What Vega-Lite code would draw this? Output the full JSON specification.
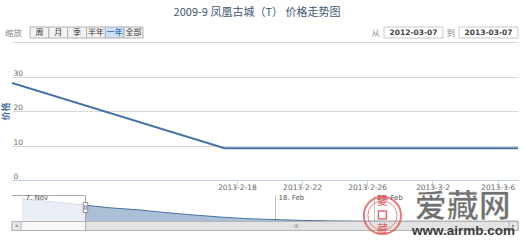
{
  "$schema": "https://vega.github.io/schema/vega-lite/v6.json",
  "background": "#ffffff",
  "padding": {"left": 1, "top": 6, "right": 0, "bottom": 0},
  "config": {"view": {"stroke": null}},
  "datasets": {
    "price": [
      {"date": "2013-02-04T05:00:00", "price": 28.1},
      {"date": "2013-02-17T06:00:00", "price": 9.2},
      {"date": "2013-02-18T06:00:00", "price": 9.2},
      {"date": "2013-02-19T06:00:00", "price": 9.2},
      {"date": "2013-02-20T06:00:00", "price": 9.2},
      {"date": "2013-02-21T06:00:00", "price": 9.2},
      {"date": "2013-02-22T06:00:00", "price": 9.2},
      {"date": "2013-02-23T06:00:00", "price": 9.2},
      {"date": "2013-02-24T06:00:00", "price": 9.2},
      {"date": "2013-02-25T06:00:00", "price": 9.2},
      {"date": "2013-02-26T06:00:00", "price": 9.2},
      {"date": "2013-02-27T06:00:00", "price": 9.2},
      {"date": "2013-02-28T06:00:00", "price": 9.2},
      {"date": "2013-03-01T06:00:00", "price": 9.2},
      {"date": "2013-03-02T06:00:00", "price": 9.2},
      {"date": "2013-03-03T06:00:00", "price": 9.2},
      {"date": "2013-03-04T06:00:00", "price": 9.2},
      {"date": "2013-03-05T06:00:00", "price": 9.2},
      {"date": "2013-03-06T06:00:00", "price": 9.2},
      {"date": "2013-03-07T06:00:00", "price": 9.2}
    ],
    "nav": [
      {"date": "2012-11-07T00:00:00", "value": 28.2},
      {"date": "2013-02-04T05:00:00", "value": 22.8},
      {"date": "2013-02-06T00:00:00", "value": 20.6},
      {"date": "2013-02-08T00:00:00", "value": 18.9},
      {"date": "2013-02-10T00:00:00", "value": 16.6},
      {"date": "2013-02-12T00:00:00", "value": 14.6},
      {"date": "2013-02-14T00:00:00", "value": 12.8},
      {"date": "2013-02-16T00:00:00", "value": 11.4},
      {"date": "2013-02-18T00:00:00", "value": 10.6},
      {"date": "2013-02-20T00:00:00", "value": 9.9},
      {"date": "2013-02-22T00:00:00", "value": 9.5},
      {"date": "2013-02-24T00:00:00", "value": 9.3},
      {"date": "2013-02-26T00:00:00", "value": 9.2},
      {"date": "2013-03-07T06:00:00", "value": 9.2}
    ],
    "buttons": [
      {"btn": "周", "selected": false},
      {"btn": "月", "selected": false},
      {"btn": "季", "selected": false},
      {"btn": "半年", "selected": false},
      {"btn": "一年", "selected": true},
      {"btn": "全部", "selected": false}
    ],
    "inputs": [
      {"label": "从", "date": "2012-03-07"},
      {"label": "到", "date": "2013-03-07"}
    ],
    "window": [
      {"navStart": "2012-11-03T00:00:00", "selStart": "2013-02-04T05:00:00", "selEnd": "2013-03-07T06:00:00"}
    ],
    "scrollbar": [
      {"part": "track", "from": "2012-11-03T00:00:00", "to": "2013-03-07T06:00:00"},
      {"part": "thumb", "from": "2013-02-04T05:00:00", "to": "2013-03-07T06:00:00"},
      {"part": "left", "from": "2012-11-03T00:00:00", "to": "2012-11-06T14:24:00"},
      {"part": "right", "from": "2013-03-06T14:40:00", "to": "2013-03-07T06:00:00"}
    ],
    "watermark": [
      {"site": "爱藏网", "url": "www.airmb.com", "top": "愛", "bottom": "藏"}
    ]
  },
  "bounds": "flush",
  "spacing": 4,
  "vconcat": [
    {
      "width": 506,
      "height": 11,
      "title": {"text": "2009-9 凤凰古城（T） 价格走势图", "font": "Noto Sans CJK SC", "fontSize": 11, "fontWeight": "normal", "color": "#3e576f", "anchor": "middle", "frame": "group", "offset": 9, "dx": -8},
      "resolve": {"scale": {"x": "independent"}},
      "layer": [
        {
          "data": {"name": "buttons"},
          "mark": {"type": "rect", "stroke": "#b0b0b0", "strokeWidth": 1},
          "encoding": {
            "x": {"field": "btn", "type": "nominal", "sort": null, "axis": null,
                  "scale": {"type": "band", "domain": ["周", "月", "季", "半年", "一年", "全部"], "range": [18, 131], "paddingInner": 0, "paddingOuter": 0}},
            "fill": {"condition": {"test": "datum.selected", "value": "#cde1f5"}, "value": "#f3f3f3"}
          }
        },
        {
          "data": {"name": "buttons"},
          "mark": {"type": "text", "font": "Noto Sans CJK SC", "fontSize": 8, "baseline": "middle", "align": "center"},
          "encoding": {
            "x": {"field": "btn", "type": "nominal", "sort": null, "axis": null,
                  "scale": {"type": "band", "domain": ["周", "月", "季", "半年", "一年", "全部"], "range": [18, 131], "paddingInner": 0, "paddingOuter": 0}},
            "text": {"field": "btn"},
            "color": {"condition": {"test": "datum.selected", "value": "#0a4ea0"}, "value": "#333333"}
          }
        },
        {
          "data": {"values": [{"label": "缩放"}]},
          "mark": {"type": "text", "font": "Noto Sans CJK SC", "fontSize": 8.5, "baseline": "middle", "align": "right", "dx": -8, "color": "#8a8a8a"},
          "encoding": {
            "x": {"datum": "周", "type": "nominal", "bandPosition": 0, "axis": null,
                  "scale": {"type": "band", "domain": ["周", "月", "季", "半年", "一年", "全部"], "range": [18, 131], "paddingInner": 0, "paddingOuter": 0}},
            "text": {"field": "label"}
          }
        },
        {
          "data": {"name": "inputs"},
          "mark": {"type": "rect", "fill": "#ffffff", "stroke": "#c8c8c8", "strokeWidth": 1},
          "encoding": {
            "x": {"field": "date", "type": "nominal", "sort": null, "axis": null,
                  "scale": {"type": "band", "domain": ["2012-03-07", "2013-03-07"], "range": [372, 506], "paddingInner": 0.213, "paddingOuter": 0}}
          }
        },
        {
          "data": {"name": "inputs"},
          "mark": {"type": "text", "font": "DejaVu Sans", "fontSize": 7.5, "fontWeight": "bold", "baseline": "middle", "align": "center", "color": "#444444"},
          "encoding": {
            "x": {"field": "date", "type": "nominal", "sort": null, "axis": null,
                  "scale": {"type": "band", "domain": ["2012-03-07", "2013-03-07"], "range": [372, 506], "paddingInner": 0.213, "paddingOuter": 0}},
            "text": {"field": "date"}
          }
        },
        {
          "data": {"name": "inputs"},
          "mark": {"type": "text", "font": "Noto Sans CJK SC", "fontSize": 8.5, "baseline": "middle", "align": "right", "dx": -4, "color": "#8a8a8a"},
          "encoding": {
            "x": {"field": "date", "type": "nominal", "sort": null, "axis": null, "bandPosition": 0,
                  "scale": {"type": "band", "domain": ["2012-03-07", "2013-03-07"], "range": [372, 506], "paddingInner": 0.213, "paddingOuter": 0}},
            "text": {"field": "label"}
          }
        }
      ]
    },
    {
      "bounds": "flush",
      "spacing": 15.5,
      "vconcat": [
        {
          "width": 506,
          "height": 138,
          "data": {"name": "price"},
          "mark": {"type": "line", "color": "#4572a7", "strokeWidth": 2, "clip": true},
          "encoding": {
            "x": {"field": "date", "type": "temporal",
                  "scale": {"domain": [{"year": 2013, "month": 2, "date": 4, "hours": 5}, {"year": 2013, "month": 3, "date": 7, "hours": 6}], "nice": false},
                  "axis": {"values": [{"year": 2013, "month": 2, "date": 18}, {"year": 2013, "month": 2, "date": 22}, {"year": 2013, "month": 2, "date": 26}, {"year": 2013, "month": 3, "date": 2}, {"year": 2013, "month": 3, "date": 6}],
                           "format": "%Y-%-m-%-d", "grid": false, "domainColor": "#c0d0e0", "domainWidth": 1, "tickColor": "#c0d0e0", "tickSize": 5,
                           "labelPadding": -2, "labelBaseline": "top", "labelFont": "DejaVu Sans", "labelFontSize": 7.5, "labelColor": "#666666",
                           "labelFlush": false, "labelOverlap": false, "title": null}},
            "y": {"field": "price", "type": "quantitative",
                  "scale": {"domain": [0, 40], "nice": false, "zero": false},
                  "axis": {"values": [0, 10, 20, 30, 40], "labelExpr": "datum.value == 40 ? '' : datum.label",
                           "grid": true, "gridColor": "#d8d8d8", "gridWidth": 1, "domain": false, "ticks": false, "tickSize": 0,
                           "labelAlign": "left", "labelBaseline": "alphabetic", "labelPadding": -1, "labelOffset": -1.5,
                           "labelFont": "DejaVu Sans", "labelFontSize": 7.5, "labelColor": "#666666", "labelFlush": false,
                           "title": "价格", "titleFont": "Noto Sans CJK SC", "titleFontSize": 9, "titleFontWeight": "bold", "titleColor": "#4d759e",
                           "titleAngle": -90, "titleAlign": "center", "titleBaseline": "middle", "titleX": -6.5, "titleY": 69}}
          }
        },
        {
          "bounds": "flush",
          "spacing": 0,
          "vconcat": [
            {
              "width": 506,
              "height": 26,
              "resolve": {"axis": {"x": "independent"}},
              "layer": [
                {
                  "data": {"name": "nav"},
                  "mark": {"type": "area", "color": "#4572a7", "opacity": 0.45, "interpolate": "monotone"},
                  "encoding": {
                    "x": {"field": "date", "type": "temporal",
                          "scale": {"domainRaw": {"expr": "[datetime(2012,10,3), datetime(2012,10,7), datetime(2013,1,4,5), datetime(2013,1,18), datetime(2013,2,7,6)]"}, "range": [0, 10, 73.5, 263, 506], "nice": false},
                          "axis": {"values": [{"year": 2012, "month": 11, "date": 7}, {"year": 2013, "month": 2, "date": 18}, {"year": 2013, "month": 2, "date": 25}],
                                   "grid": true, "gridColor": "#c4c4c4", "labels": false, "domain": false, "ticks": false, "tickSize": 0, "title": null, "zindex": 0}},
                    "y": {"field": "value", "type": "quantitative", "axis": null, "scale": {"domain": [9, 31], "nice": false, "zero": false}},
                    "y2": {"datum": 9}
                  }
                },
                {
                  "data": {"name": "nav"},
                  "mark": {"type": "line", "color": "#4572a7", "strokeWidth": 1, "interpolate": "monotone"},
                  "encoding": {
                    "x": {"field": "date", "type": "temporal", "axis": null,
                          "scale": {"domainRaw": {"expr": "[datetime(2012,10,3), datetime(2012,10,7), datetime(2013,1,4,5), datetime(2013,1,18), datetime(2013,2,7,6)]"}, "range": [0, 10, 73.5, 263, 506], "nice": false}},
                    "y": {"field": "value", "type": "quantitative", "axis": null, "scale": {"domain": [9, 31], "nice": false, "zero": false}}
                  }
                },
                {
                  "data": {"name": "window"},
                  "mark": {"type": "rect", "fill": "#ffffff", "opacity": 0.75},
                  "encoding": {
                    "x": {"field": "navStart", "type": "temporal",
                          "scale": {"domainRaw": {"expr": "[datetime(2012,10,3), datetime(2012,10,7), datetime(2013,1,4,5), datetime(2013,1,18), datetime(2013,2,7,6)]"}, "range": [0, 10, 73.5, 263, 506], "nice": false},
                          "axis": {"values": [{"year": 2012, "month": 11, "date": 7}, {"year": 2013, "month": 2, "date": 18}, {"year": 2013, "month": 2, "date": 25}],
                                   "format": "%-d. %b", "grid": false, "domain": false, "ticks": false, "tickSize": 0,
                                   "labelAlign": "left", "labelBaseline": "alphabetic", "labelPadding": -4, "labelOffset": 3,
                                   "labelFont": "DejaVu Sans", "labelFontSize": 7, "labelColor": "#555555", "labelFlush": false, "labelOverlap": false,
                                   "title": null, "zindex": 1}},
                    "x2": {"field": "selStart"}
                  }
                },
                {
                  "data": {"name": "window"},
                  "mark": {"type": "rule", "color": "#a8a8a8", "strokeWidth": 1},
                  "encoding": {
                    "x": {"field": "navStart", "type": "temporal", "axis": null,
                          "scale": {"domainRaw": {"expr": "[datetime(2012,10,3), datetime(2012,10,7), datetime(2013,1,4,5), datetime(2013,1,18), datetime(2013,2,7,6)]"}, "range": [0, 10, 73.5, 263, 506], "nice": false}},
                    "x2": {"field": "selStart"},
                    "y": {"datum": 31, "type": "quantitative", "axis": null, "scale": {"domain": [9, 31], "nice": false, "zero": false}}
                  }
                },
                {
                  "data": {"name": "window"},
                  "mark": {"type": "rule", "color": "#a8a8a8", "strokeWidth": 1},
                  "encoding": {
                    "x": {"field": "selStart", "type": "temporal", "axis": null,
                          "scale": {"domainRaw": {"expr": "[datetime(2012,10,3), datetime(2012,10,7), datetime(2013,1,4,5), datetime(2013,1,18), datetime(2013,2,7,6)]"}, "range": [0, 10, 73.5, 263, 506], "nice": false}}
                  }
                },
                {
                  "data": {"name": "window"},
                  "mark": {"type": "point", "shape": "M-0.45,-1L0.45,-1L0.45,1L-0.45,1Z M-0.15,-0.5L-0.15,0.5 M0.15,-0.5L0.15,0.5", "size": 100, "filled": true, "fill": "#ffffff", "stroke": "#8a8a8a", "strokeWidth": 1, "opacity": 1},
                  "encoding": {
                    "x": {"field": "selStart", "type": "temporal", "axis": null,
                          "scale": {"domainRaw": {"expr": "[datetime(2012,10,3), datetime(2012,10,7), datetime(2013,1,4,5), datetime(2013,1,18), datetime(2013,2,7,6)]"}, "range": [0, 10, 73.5, 263, 506], "nice": false}},
                    "y": {"datum": 20.8, "type": "quantitative", "axis": null, "scale": {"domain": [9, 31], "nice": false, "zero": false}}
                  }
                }
              ]
            },
            {
              "width": 506,
              "height": 9,
              "layer": [
                {
                  "data": {"name": "scrollbar"},
                  "mark": {"type": "rect", "stroke": "#b4b4b4", "strokeWidth": 1},
                  "encoding": {
                    "x": {"field": "from", "type": "temporal", "axis": null,
                          "scale": {"domainRaw": {"expr": "[datetime(2012,10,3), datetime(2012,10,7), datetime(2013,1,4,5), datetime(2013,1,18), datetime(2013,2,7,6)]"}, "range": [0, 10, 73.5, 263, 506], "nice": false}},
                    "x2": {"field": "to"},
                    "fill": {"field": "part", "type": "nominal", "legend": null,
                             "scale": {"domain": ["track", "thumb", "left", "right"], "range": ["#f8f8f8", "#e3e3e3", "#e6e6e6", "#e6e6e6"]}}
                  }
                },
                {
                  "data": {"values": [{"dir": "left"}]},
                  "mark": {"type": "point", "shape": "triangle-left", "size": 9, "filled": true, "color": "#555555"},
                  "encoding": {
                    "x": {"datum": {"year": 2012, "month": 11, "date": 4, "hours": 19}, "type": "temporal", "axis": null,
                          "scale": {"domainRaw": {"expr": "[datetime(2012,10,3), datetime(2012,10,7), datetime(2013,1,4,5), datetime(2013,1,18), datetime(2013,2,7,6)]"}, "range": [0, 10, 73.5, 263, 506], "nice": false}}
                  }
                },
                {
                  "data": {"values": [{"dir": "right"}]},
                  "mark": {"type": "point", "shape": "triangle-right", "size": 9, "filled": true, "color": "#555555"},
                  "encoding": {
                    "x": {"datum": {"year": 2013, "month": 3, "date": 6, "hours": 22}, "type": "temporal", "axis": null,
                          "scale": {"domainRaw": {"expr": "[datetime(2012,10,3), datetime(2012,10,7), datetime(2013,1,4,5), datetime(2013,1,18), datetime(2013,2,7,6)]"}, "range": [0, 10, 73.5, 263, 506], "nice": false}}
                  }
                },
                {
                  "data": {"values": [{"grip": "III"}]},
                  "mark": {"type": "text", "font": "DejaVu Sans", "fontSize": 5, "color": "#777777", "align": "center", "baseline": "middle"},
                  "encoding": {
                    "x": {"datum": {"year": 2013, "month": 2, "date": 19, "hours": 12}, "type": "temporal", "axis": null,
                          "scale": {"domainRaw": {"expr": "[datetime(2012,10,3), datetime(2012,10,7), datetime(2013,1,4,5), datetime(2013,1,18), datetime(2013,2,7,6)]"}, "range": [0, 10, 73.5, 263, 506], "nice": false}},
                    "text": {"field": "grip"}
                  }
                },
                {
                  "data": {"name": "watermark"},
                  "mark": {"type": "point", "shape": "circle", "size": 1385, "filled": false, "stroke": "#e05a5a", "strokeWidth": 2, "opacity": 0.8},
                  "encoding": {
                    "x": {"datum": {"year": 2013, "month": 2, "date": 25, "hours": 15}, "type": "temporal", "axis": null,
                          "scale": {"domainRaw": {"expr": "[datetime(2012,10,3), datetime(2012,10,7), datetime(2013,1,4,5), datetime(2013,1,18), datetime(2013,2,7,6)]"}, "range": [0, 10, 73.5, 263, 506], "nice": false}},
                    "y": {"datum": 14.1, "type": "quantitative", "axis": null, "scale": {"domain": [1.4, 9], "nice": false, "zero": false}}
                  }
                },
                {
                  "data": {"name": "watermark"},
                  "mark": {"type": "point", "shape": "circle", "size": 850, "filled": false, "stroke": "#e05a5a", "strokeWidth": 1, "opacity": 0.7},
                  "encoding": {
                    "x": {"datum": {"year": 2013, "month": 2, "date": 25, "hours": 15}, "type": "temporal", "axis": null,
                          "scale": {"domainRaw": {"expr": "[datetime(2012,10,3), datetime(2012,10,7), datetime(2013,1,4,5), datetime(2013,1,18), datetime(2013,2,7,6)]"}, "range": [0, 10, 73.5, 263, 506], "nice": false}},
                    "y": {"datum": 14.1, "type": "quantitative", "axis": null, "scale": {"domain": [1.4, 9], "nice": false, "zero": false}}
                  }
                },
                {
                  "data": {"name": "watermark"},
                  "mark": {"type": "point", "shape": "square", "size": 64, "filled": true, "fill": "#ffffff", "stroke": "#e05a5a", "strokeWidth": 1.5, "opacity": 0.9},
                  "encoding": {
                    "x": {"datum": {"year": 2013, "month": 2, "date": 25, "hours": 15}, "type": "temporal", "axis": null,
                          "scale": {"domainRaw": {"expr": "[datetime(2012,10,3), datetime(2012,10,7), datetime(2013,1,4,5), datetime(2013,1,18), datetime(2013,2,7,6)]"}, "range": [0, 10, 73.5, 263, 506], "nice": false}},
                    "y": {"datum": 14.5, "type": "quantitative", "axis": null, "scale": {"domain": [1.4, 9], "nice": false, "zero": false}}
                  }
                },
                {
                  "data": {"name": "watermark"},
                  "mark": {"type": "text", "font": "Noto Sans CJK TC", "fontSize": 11, "color": "#d94a4a", "opacity": 0.85, "align": "center", "baseline": "middle"},
                  "encoding": {
                    "x": {"datum": {"year": 2013, "month": 2, "date": 25, "hours": 15}, "type": "temporal", "axis": null,
                          "scale": {"domainRaw": {"expr": "[datetime(2012,10,3), datetime(2012,10,7), datetime(2013,1,4,5), datetime(2013,1,18), datetime(2013,2,7,6)]"}, "range": [0, 10, 73.5, 263, 506], "nice": false}},
                    "y": {"datum": 25.5, "type": "quantitative", "axis": null, "scale": {"domain": [1.4, 9], "nice": false, "zero": false}},
                    "text": {"field": "top"}
                  }
                },
                {
                  "data": {"name": "watermark"},
                  "mark": {"type": "text", "font": "Noto Sans CJK TC", "fontSize": 11, "color": "#d94a4a", "opacity": 0.85, "align": "center", "baseline": "middle"},
                  "encoding": {
                    "x": {"datum": {"year": 2013, "month": 2, "date": 25, "hours": 15}, "type": "temporal", "axis": null,
                          "scale": {"domainRaw": {"expr": "[datetime(2012,10,3), datetime(2012,10,7), datetime(2013,1,4,5), datetime(2013,1,18), datetime(2013,2,7,6)]"}, "range": [0, 10, 73.5, 263, 506], "nice": false}},
                    "y": {"datum": 1.8, "type": "quantitative", "axis": null, "scale": {"domain": [1.4, 9], "nice": false, "zero": false}},
                    "text": {"field": "bottom"}
                  }
                },
                {
                  "data": {"name": "watermark"},
                  "mark": {"type": "text", "font": "Noto Sans CJK SC", "fontSize": 32, "fontWeight": "bold", "color": "#707070", "stroke": "#ffffff", "strokeWidth": 0.6, "align": "center", "baseline": "middle"},
                  "encoding": {
                    "x": {"datum": {"year": 2013, "month": 3, "date": 3, "hours": 8}, "type": "temporal", "axis": null,
                          "scale": {"domainRaw": {"expr": "[datetime(2012,10,3), datetime(2012,10,7), datetime(2013,1,4,5), datetime(2013,1,18), datetime(2013,2,7,6)]"}, "range": [0, 10, 73.5, 263, 506], "nice": false}},
                    "y": {"datum": 21.2, "type": "quantitative", "axis": null, "scale": {"domain": [1.4, 9], "nice": false, "zero": false}},
                    "text": {"field": "site"}
                  }
                },
                {
                  "data": {"name": "watermark"},
                  "mark": {"type": "text", "font": "Liberation Sans", "fontSize": 13.5, "fontWeight": "bold", "color": "#3a3a3a", "align": "center", "baseline": "middle"},
                  "encoding": {
                    "x": {"datum": {"year": 2013, "month": 3, "date": 3, "hours": 9}, "type": "temporal", "axis": null,
                          "scale": {"domainRaw": {"expr": "[datetime(2012,10,3), datetime(2012,10,7), datetime(2013,1,4,5), datetime(2013,1,18), datetime(2013,2,7,6)]"}, "range": [0, 10, 73.5, 263, 506], "nice": false}},
                    "y": {"datum": 0.98, "type": "quantitative", "axis": null, "scale": {"domain": [1.4, 9], "nice": false, "zero": false}},
                    "text": {"field": "url"}
                  }
                }
              ]
            }
          ]
        }
      ]
    }
  ]
}
